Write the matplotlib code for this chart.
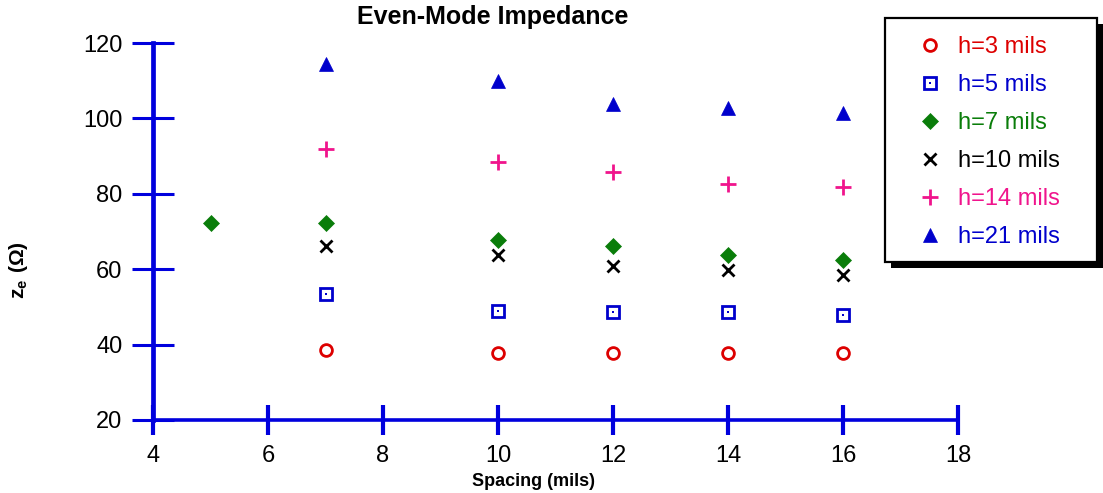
import matplotlib
matplotlib.use("Agg")
import matplotlib.pyplot as plt
from matplotlib.patches import Rectangle
from matplotlib.legend_handler import HandlerTuple

plt.rcParams['font.family'] = ['Liberation Sans', 'DejaVu Sans']
plt.rcParams['mathtext.fontset'] = 'custom'
plt.rcParams['mathtext.bf'] = 'Liberation Sans:bold'
plt.rcParams['mathtext.rm'] = 'Liberation Sans'

# Even-mode impedance (ohms) vs trace spacing (mils), per dielectric height
spacing = [7, 10, 12, 14, 16]
spacing_h7 = [5, 7, 10, 12, 14, 16]
z_h3 = [38.6, 37.8, 37.8, 37.8, 37.8]
z_h5 = [53.4, 48.9, 48.6, 48.6, 47.9]
z_h7 = [72.3, 72.3, 67.7, 66.2, 63.8, 62.4]
z_h10 = [66.2, 63.8, 60.8, 59.8, 58.5]
z_h14 = [91.9, 88.4, 85.8, 82.6, 81.8]
z_h21 = [114.4, 109.9, 103.8, 102.8, 101.4]

labels = ["h=3 mils", "h=5 mils", "h=7 mils", "h=10 mils", "h=14 mils", "h=21 mils"]
xticks = [4, 6, 8, 10, 12, 14, 16, 18]
yticks = [20, 40, 60, 80, 100, 120]

RED = '#DD0000'
BLUE = '#0000CC'
GREEN = '#0A7D0A'
PINK = '#F0148C'
BLACK = '#000000'
AXIS = '#0000DD'

W_PX, H_PX = 1103, 493
fig = plt.figure(figsize=(W_PX / 100, H_PX / 100), dpi=100)
ax = fig.add_axes([153 / W_PX, 73 / H_PX, 805 / W_PX, 377 / H_PX])

kw = dict(linestyle='none', clip_on=False)
h3, = ax.plot(spacing, z_h3, marker='o', ms=8.5, mfc='none', mec=RED, mew=2, **kw)
h5a, = ax.plot(spacing, z_h5, marker='s', ms=9, mfc='none', mec=BLUE, mew=2, **kw)
h5b, = ax.plot(spacing, z_h5, marker='s', ms=2, mfc=BLUE, mec=BLUE, mew=0, **kw)
h7, = ax.plot(spacing_h7, z_h7, marker='D', ms=8, mfc=GREEN, mec=GREEN, mew=0.5, **kw)
h10, = ax.plot(spacing, z_h10, marker='x', ms=9, mec=BLACK, mew=2, **kw)
h14, = ax.plot(spacing, z_h14, marker='+', ms=11, mec=PINK, mew=2, **kw)
h21, = ax.plot(spacing, z_h21, marker='^', ms=10, mfc=BLUE, mec=BLUE, mew=0.5, **kw)

ax.set_xlim(4, 18)
ax.set_ylim(20, 120)
ax.set_xticks(xticks)
ax.set_yticks(yticks)

for side in ('top', 'right'):
    ax.spines[side].set_visible(False)
ax.spines['left'].set_color(AXIS)
ax.spines['left'].set_linewidth(3.4)
ax.spines['bottom'].set_color(AXIS)
ax.spines['bottom'].set_linewidth(2.6)

ax.tick_params(axis='x', direction='inout', length=21.6, width=3.0, color=AXIS,
               pad=7, labelsize=17)
ax.tick_params(axis='y', direction='inout', length=30, width=2.2, color=AXIS,
               pad=7, labelsize=17)

ax.set_xlabel("Spacing (mils)", fontsize=13, fontweight='bold')
ax.xaxis.set_label_coords((534 - 153) / 805, -0.14)
fig.text(18 / W_PX, 1 - 270 / H_PX, r"$\mathbf{z_e\ (Ω)}$", fontsize=15,
         rotation=90, ha='center', va='center')
fig.text(493 / W_PX, 1 - 17 / H_PX, "Even-Mode Impedance", fontsize=18,
         fontweight='bold', ha='center', va='center')

# legend box with solid drop shadow
box = (885, 18, 1097, 262)
fig.add_artist(Rectangle(((box[0] + 6) / W_PX, 1 - (box[3] + 6) / H_PX),
                         (box[2] - box[0]) / W_PX, (box[3] - box[1]) / H_PX,
                         transform=fig.transFigure, facecolor='black',
                         edgecolor='none', zorder=3))
fig.add_artist(Rectangle((box[0] / W_PX, 1 - box[3] / H_PX),
                         (box[2] - box[0]) / W_PX, (box[3] - box[1]) / H_PX,
                         transform=fig.transFigure, facecolor='white',
                         edgecolor='black', linewidth=1.6, zorder=4))

handles = [h3, (h5a, h5b), h7, h10, h14, h21]
colors = [RED, BLUE, GREEN, BLACK, PINK, BLUE]
leg = fig.legend(handles, labels, loc='upper left',
                 bbox_to_anchor=(918 / W_PX, 1 - 36 / H_PX),
                 handler_map={tuple: HandlerTuple(ndivide=1, pad=0)},
                 fontsize=17, frameon=False, borderpad=0, labelspacing=0.68,
                 handlelength=1.0, handletextpad=0.7, borderaxespad=0)
leg.set_zorder(5)
for txt, c in zip(leg.get_texts(), colors):
    txt.set_color(c)

fig.savefig("out.png", dpi=100)
